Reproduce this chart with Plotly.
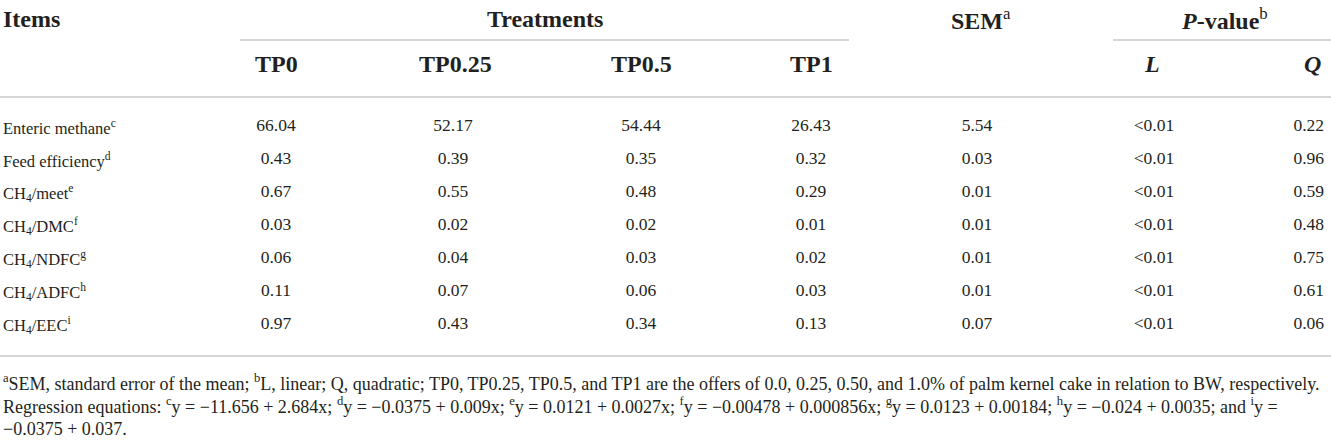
import plotly.graph_objects as go

# table content
items = ['Enteric methane<sup>c</sup>', 'Feed efficiency<sup>d</sup>', 'CH<sub>4</sub>/meet<sup>e</sup>',
         'CH<sub>4</sub>/DMC<sup>f</sup>', 'CH<sub>4</sub>/NDFC<sup>g</sup>', 'CH<sub>4</sub>/ADFC<sup>h</sup>',
         'CH<sub>4</sub>/EEC<sup>i</sup>']
tp0 = ['66.04', '0.43', '0.67', '0.03', '0.06', '0.11', '0.97']
tp025 = ['52.17', '0.39', '0.55', '0.02', '0.04', '0.07', '0.43']
tp05 = ['54.44', '0.35', '0.48', '0.02', '0.03', '0.06', '0.34']
tp1 = ['26.43', '0.32', '0.29', '0.01', '0.02', '0.03', '0.13']
sem = ['5.54', '0.03', '0.01', '0.01', '0.01', '0.01', '0.07']
p_lin = ['<0.01', '<0.01', '<0.01', '<0.01', '<0.01', '<0.01', '<0.01']
p_quad = ['0.22', '0.96', '0.59', '0.48', '0.75', '0.61', '0.06']

treat_labels = ['TP0', 'TP0.25', 'TP0.5', 'TP1']
footnotes = [
    '<sup>a</sup>SEM, standard error of the mean; <sup>b</sup>L, linear; Q, quadratic; TP0, TP0.25, TP0.5, and TP1 are the offers of 0.0, 0.25, 0.50, and 1.0% of palm kernel cake in relation to BW, respectively.',
    'Regression equations: <sup>c</sup>y = \u221211.656 + 2.684x; <sup>d</sup>y = \u22120.0375 + 0.009x; <sup>e</sup>y = 0.0121 + 0.0027x; <sup>f</sup>y = \u22120.00478 + 0.000856x; <sup>g</sup>y = 0.0123 + 0.00184; <sup>h</sup>y = \u22120.024 + 0.0035; and <sup>i</sup>y =',
    '\u22120.0375 + 0.037.',
]

W, H = 1331, 440
FONT = 'Liberation Serif'
INK = '#231f20'
RULE = '#c8c8c8'

row_y0, row_step = 127, 33
rows_y = [row_y0 + i * row_step for i in range(len(items))]

fig = go.Figure()

value_cols = [(tp0, 276, 'middle center'), (tp025, 453, 'middle center'), (tp05, 641, 'middle center'),
              (tp1, 811, 'middle center'), (sem, 977, 'middle center'), (p_lin, 1154, 'middle center'),
              (p_quad, 1324, 'middle left')]
for vals, cx, pos in value_cols:
    fig.add_trace(go.Scatter(x=[cx] * len(vals), y=rows_y, mode='text',
                             text=[v.replace('<', '&lt;') for v in vals], textposition=pos,
                             textfont=dict(family=FONT, size=17.5, color=INK),
                             hoverinfo='skip', showlegend=False))

ann = []
for label, y in zip(items, rows_y):
    ann.append(dict(x=2, y=y, text=label, xanchor='left', yanchor='middle',
                    font=dict(family=FONT, size=16.5, color=INK)))

hdr = dict(family=FONT, size=24, color=INK)
ann.append(dict(x=2, y=19, text='<b>Items</b>', xanchor='left', yanchor='middle', font=hdr))
ann.append(dict(x=545, y=19, text='<b>Treatments</b>', xanchor='center', yanchor='middle', font=hdr))
ann.append(dict(x=981, y=19, text='<b>SEM</b><sup>a</sup>', xanchor='center', yanchor='middle', font=hdr))
ann.append(dict(x=1224, y=19, text='<b><i>P</i>-value</b><sup>b</sup>', xanchor='center', yanchor='middle', font=hdr))
for label, cx in zip(treat_labels, [276, 455, 641, 811]):
    ann.append(dict(x=cx, y=64, text='<b>' + label + '</b>', xanchor='center', yanchor='middle', font=hdr))
ann.append(dict(x=1152, y=64, text='<b><i>L</i></b>', xanchor='center', yanchor='middle', font=hdr))
ann.append(dict(x=1322, y=64, text='<b><i>Q</i></b>', xanchor='right', yanchor='middle', font=hdr))

for i, line in enumerate(footnotes):
    ann.append(dict(x=2, y=382 + i * 23.5, text=line, xanchor='left', yanchor='middle',
                    font=dict(family=FONT, size=18, color=INK)))

for a in ann:
    a.update(xref='x', yref='y', showarrow=False, borderpad=0)

rules = [(240, 849, 40), (1113, 1331, 40), (0, 1331, 97), (0, 1331, 356)]
shapes = [dict(type='line', xref='x', yref='y', x0=a, x1=b, y0=y, y1=y,
               line=dict(color=RULE, width=1.5)) for a, b, y in rules]

fig.update_layout(width=W, height=H, margin=dict(l=0, r=0, t=0, b=0),
                  paper_bgcolor='white', plot_bgcolor='white',
                  annotations=ann, shapes=shapes,
                  xaxis=dict(range=[0, W], visible=False, fixedrange=True),
                  yaxis=dict(range=[H, 0], visible=False, fixedrange=True))

fig.write_html('out.html', config={'displayModeBar': False},
               post_script="document.body.style.margin='0';")
